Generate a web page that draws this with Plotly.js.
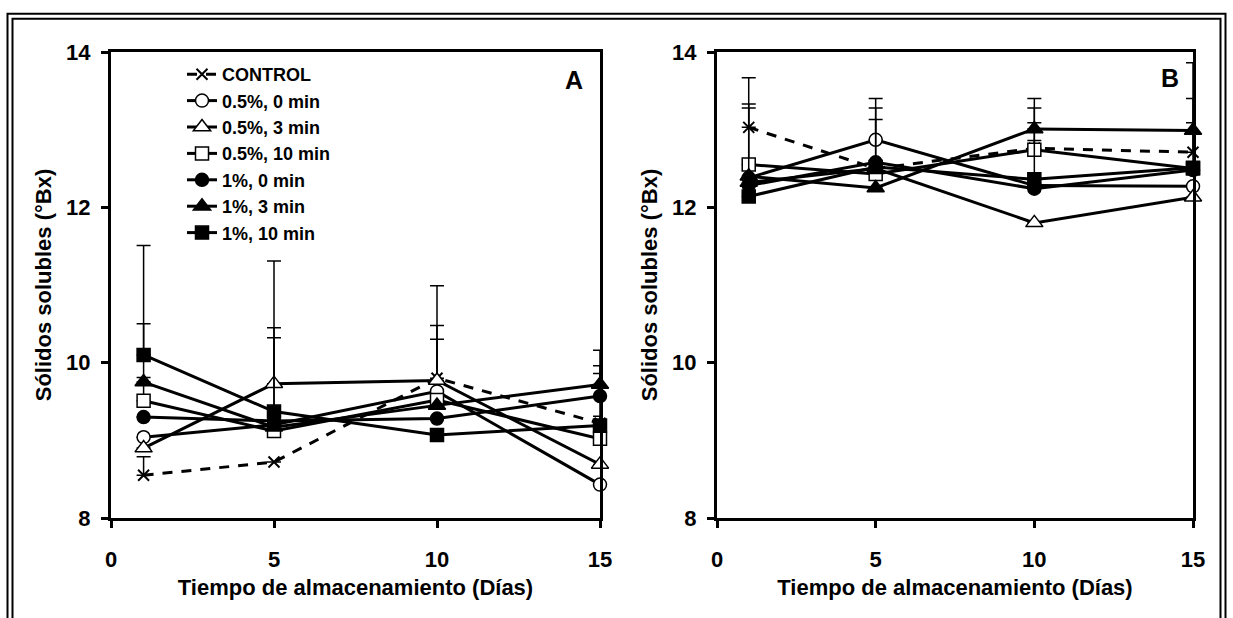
<!DOCTYPE html>
<html><head><meta charset="utf-8">
<script src="https://cdn.plot.ly/plotly-3.0.1.min.js"></script>
<style>html,body{margin:0;padding:0;background:#fff}#chart{width:1233px;height:618px}</style>
</head><body><div id="chart"></div>
<script>
const days = [1, 5, 10, 15];
const seriesNames = ['CONTROL', '0.5%, 0 min', '0.5%, 3 min', '0.5%, 10 min', '1%, 0 min', '1%, 3 min', '1%, 10 min'];
const xTickVals = [0, 5, 10, 15];
const yTickVals = [8, 10, 12, 14];
const panelLabels = ['A', 'B'];
const xTitle = 'Tiempo de almacenamiento (Días)';
const yTitle = 'Sólidos solubles (°Bx)';

// Panel A (means)
const ctrlA   = [8.55, 8.72, 9.80, 9.22];
const p05m0A  = [9.04, 9.20, 9.63, 8.43];
const p05m3A  = [8.90, 9.73, 9.77, 8.69];
const p05m10A = [9.51, 9.12, 9.52, 9.02];
const p1m0A   = [9.30, 9.25, 9.28, 9.57];
const p1m3A   = [9.75, 9.17, 9.45, 9.72];
const p1m10A  = [10.10, 9.37, 9.07, 9.19];
// Panel A (upper error; null = not visible)
const eCtrlA   = [0.24, null, 0.68, 0.64];
const e05m0A   = [null, null, 0.67, null];
const e05m3A   = [null, 1.58, 1.22, null];
const e05m10A  = [0.30, null, null, null];
const e1m0A    = [null, 1.07, null, 0.39];
const e1m3A    = [0.75, null, null, 0.44];
const e1m10A   = [1.41, 1.08, null, 0.12];

// Panel B (means)
const ctrlB   = [13.03, 12.50, 12.76, 12.71];
const p05m0B  = [12.38, 12.87, 12.28, 12.27];
const p05m3B  = [12.32, 12.50, 11.80, 12.13];
const p05m10B = [12.55, 12.43, 12.74, 12.50];
const p1m0B   = [12.28, 12.58, 12.24, 12.48];
const p1m3B   = [12.40, 12.25, 13.01, 12.99];
const p1m10B  = [12.14, 12.52, 12.36, 12.51];
// Panel B (upper error; null = not visible)
const eCtrlB   = [0.64, null, 0.52, 0.69];
const e05m0B   = [null, 0.53, null, null];
const e05m3B   = [null, null, null, null];
const e05m10B  = [0.78, null, 0.35, null];
const e1m0B    = [null, 0.70, null, null];
const e1m3B    = [0.88, null, 0.39, 0.87];
const e1m10B   = [null, 0.61, 0.50, 0.58];

const styles = [
  {dash: '10px,9px', symbol: 'x-thin-open', size: 11, fill: '#000', lw: 2},
  {dash: 'solid', symbol: 'circle', size: 13, fill: '#fff', lw: 1.5},
  {dash: 'solid', symbol: 'triangle-up', size: 15, fill: '#fff', lw: 1.5},
  {dash: 'solid', symbol: 'square', size: 13, fill: '#fff', lw: 1.5},
  {dash: 'solid', symbol: 'circle', size: 13, fill: '#000', lw: 1.5},
  {dash: 'solid', symbol: 'triangle-up', size: 15, fill: '#000', lw: 1.5},
  {dash: 'solid', symbol: 'square', size: 13, fill: '#000', lw: 1.5}
];

const panelA = [ctrlA, p05m0A, p05m3A, p05m10A, p1m0A, p1m3A, p1m10A];
const errA = [eCtrlA, e05m0A, e05m3A, e05m10A, e1m0A, e1m3A, e1m10A];
const panelB = [ctrlB, p05m0B, p05m3B, p05m10B, p1m0B, p1m3B, p1m10B];
const errB = [eCtrlB, e05m0B, e05m3B, e05m10B, e1m0B, e1m3B, e1m10B];

function mk(i, y, err, xa, ya, showlegend) {
  const s = styles[i];
  return {
    type: 'scatter', mode: 'lines+markers', x: days, y: y, name: seriesNames[i],
    xaxis: xa, yaxis: ya, showlegend: showlegend, cliponaxis: false,
    line: {color: '#000', width: 3, dash: s.dash},
    marker: {symbol: s.symbol, size: s.size, color: s.fill, line: {color: '#000', width: s.lw}},
    error_y: {type: 'data', symmetric: false, array: err, color: '#000', thickness: 1.5, width: 7}
  };
}

const traces = [];
panelA.forEach((y, i) => traces.push(mk(i, y, errA[i], 'x', 'y', true)));
panelB.forEach((y, i) => traces.push(mk(i, y, errB[i], 'x2', 'y2', false)));

const FONT = 'Liberation Sans, Arial, sans-serif';
function xaxis(domain, anchor) {
  return {
    domain: domain, anchor: anchor, range: [0, 15], tickvals: xTickVals, ticktext: xTickVals.map(String),
    showline: true, linecolor: '#000', linewidth: 3, mirror: true, showgrid: false, zeroline: false,
    ticks: 'outside', ticklen: 7, tickwidth: 3, tickcolor: '#000', ticklabelstandoff: 13,
    tickfont: {family: FONT, size: 22, color: '#000', weight: 'bold'},
    title: {text: xTitle, standoff: 9, font: {family: FONT, size: 22, color: '#000', weight: 'bold'}}
  };
}
function yaxis(anchor) {
  return {
    domain: [0, 1], anchor: anchor, range: [8, 14], tickvals: yTickVals, ticktext: yTickVals.map(String),
    showline: true, linecolor: '#000', linewidth: 3, mirror: true, showgrid: false, zeroline: false,
    ticks: 'outside', ticklen: 7, tickwidth: 3, tickcolor: '#000', ticklabelstandoff: 6,
    tickfont: {family: FONT, size: 22, color: '#000', weight: 'bold'},
    title: {text: yTitle, standoff: 9, font: {family: FONT, size: 22, color: '#000', weight: 'bold'}}
  };
}

const L = 111, R = 40, T = 52, B = 100, W = 1233, H = 618;
const pw = W - L - R, ph = H - T - B;
const px = v => (v - L) / pw;
const py = v => (H - B - v) / ph;

const layout = {
  width: W, height: H,
  margin: {l: L, r: R, t: T, b: B},
  paper_bgcolor: '#fff', plot_bgcolor: '#fff',
  font: {family: FONT, color: '#000', weight: 'bold'},
  xaxis: xaxis([0, px(600)], 'y'),
  yaxis: yaxis('x'),
  xaxis2: xaxis([px(717), 1], 'y2'),
  yaxis2: yaxis('x2'),
  showlegend: true,
  legend: {
    x: px(182), y: py(56), xanchor: 'left', yanchor: 'top',
    bgcolor: 'rgba(0,0,0,0)', borderwidth: 0,
    font: {family: FONT, size: 18, color: '#000', weight: 'bold'}
  },
  annotations: [
    {text: panelLabels[0], xref: 'paper', yref: 'paper', x: px(574), y: py(80), xanchor: 'center', yanchor: 'middle', showarrow: false,
     font: {family: FONT, size: 25, color: '#000', weight: 'bold'}},
    {text: panelLabels[1], xref: 'paper', yref: 'paper', x: px(1170), y: py(78), xanchor: 'center', yanchor: 'middle', showarrow: false,
     font: {family: FONT, size: 25, color: '#000', weight: 'bold'}}
  ],
  shapes: [
    {type: 'rect', xref: 'paper', yref: 'paper', x0: px(7.5), x1: px(1225.5), y0: py(660), y1: py(13.8),
     line: {color: '#000', width: 2}, fillcolor: 'rgba(0,0,0,0)', layer: 'below'},
    {type: 'rect', xref: 'paper', yref: 'paper', x0: px(12.5), x1: px(1220.5), y0: py(660), y1: py(18.8),
     line: {color: '#000', width: 2}, fillcolor: 'rgba(0,0,0,0)', layer: 'below'}
  ]
};

Plotly.newPlot('chart', traces, layout, {displayModeBar: false, staticPlot: true});
</script></body></html>
